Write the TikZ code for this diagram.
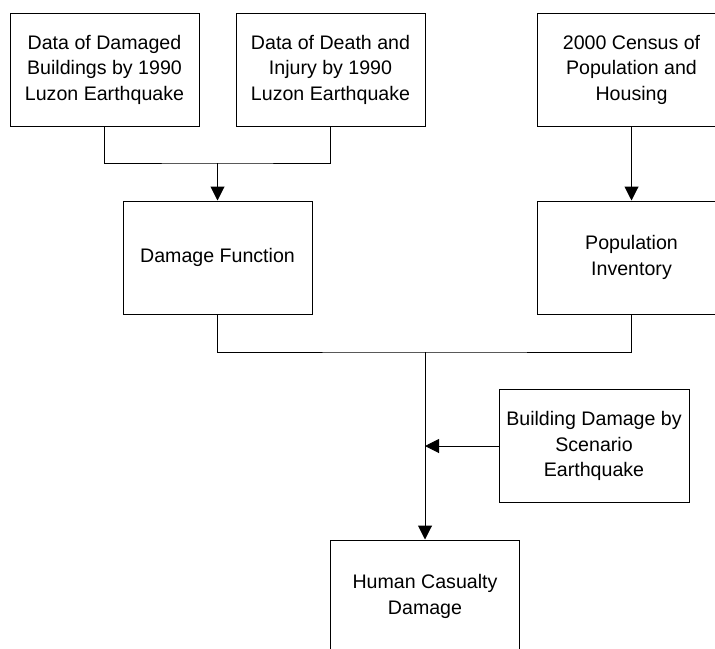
\documentclass[tikz,border=0pt]{standalone}
\usepackage{fontspec}
\setmainfont{Liberation Sans}
\usetikzlibrary{arrows.meta}

\begin{document}
\begin{tikzpicture}[%
					x=0.5pt, y=-0.5pt,
					line width=0.5pt,
					every node/.style={%
						draw,
						rectangle,
						align=center,
						inner sep=0pt,
						minimum width=94.5pt,
						minimum height=56.5pt,
						font=\fontsize{9.8}{12.75}\selectfont
					},
					flow/.style={-{Triangle[length=7pt,width=7pt]}}
				]

				\useasboundingbox (0,0) rectangle (715,648);

				\node (damaged) at (104.5, 69.5) {%
					Data of Damaged\\
					Buildings by 1990\\
					Luzon Earthquake
				};
				\node (death) at (330.5, 69.5) {%
					Data of Death and\\
					Injury by 1990\\
					Luzon Earthquake
				};
				\node (census) at (631.5, 69.5) {%
					2000 Census of\\
					Population and\\
					Housing
				};
				\node (function) at (217.5, 257.5) {Damage Function};
				\node (inventory) at (631.5, 257.5) {%
					Population\\
					Inventory
				};
				\node (scenario) at (594, 446) [minimum width=95pt] {%
					Building Damage by\\
					Scenario\\
					Earthquake
				};
				\node (casualty) at (425, 596.5) {%
					Human Casualty\\
					Damage
				};

				\coordinate (datajoin) at (217.5, 163);
				\coordinate (mainjoin) at (425, 352);
				\coordinate (scenariojoin) at (425, 446);

				\draw (damaged) |- (datajoin) -| (death);
				\draw[flow] (datajoin) -- (function);
				\draw[flow] (census) -- (inventory);
				\draw (function) |- (mainjoin) -| (inventory);
				\draw[flow] (mainjoin) -- (casualty);
				% \draw[flow] (scenario.west) -- (mainjoin);
				\draw[flow] (scenario) -- (scenariojoin);
			\end{tikzpicture}
\end{document}
